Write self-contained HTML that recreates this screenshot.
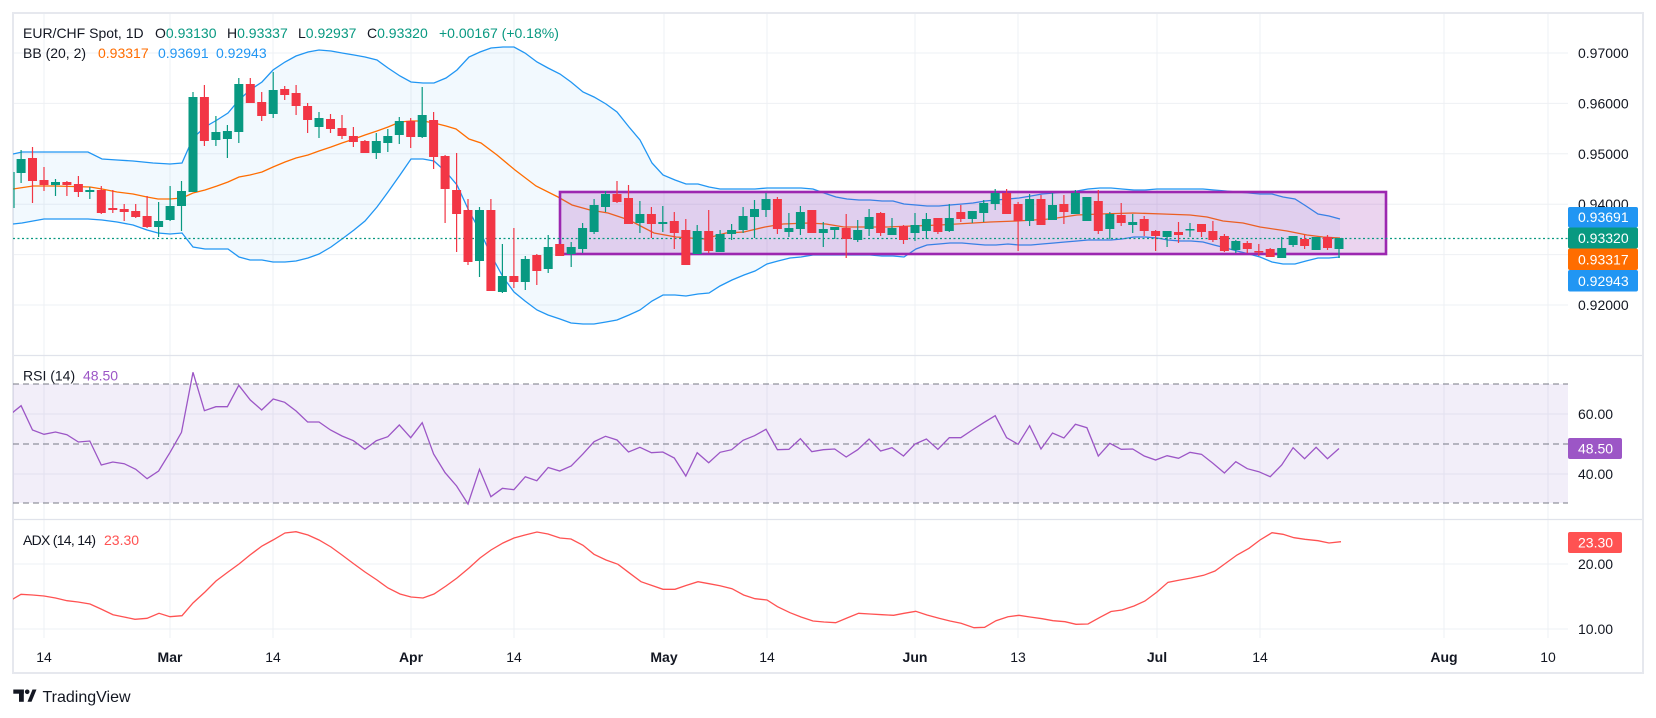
<!DOCTYPE html>
<html><head><meta charset="utf-8"><style>
html,body{margin:0;padding:0;background:#fff;}
svg{display:block;font-family:"Liberation Sans",Arial,sans-serif;}
</style></head><body>
<svg width="1656" height="718" viewBox="0 0 1656 718" xmlns="http://www.w3.org/2000/svg">
<defs>
<clipPath id="cm"><rect x="13" y="13" width="1555" height="342"/></clipPath>
<clipPath id="cr"><rect x="13" y="356" width="1555" height="163"/></clipPath>
<clipPath id="ca"><rect x="13" y="520" width="1555" height="118"/></clipPath>
</defs>
<rect x="0" y="0" width="1656" height="718" fill="#fff"/>
<!-- grid -->
<g stroke="#eef0f4" stroke-width="1">
<path d="M44 13V638M170 13V638M273 13V638M411 13V638M514 13V638M664 13V638M767 13V638M915 13V638M1018 13V638M1157 13V638M1260 13V638M1444 13V638M1548 13V638"/>
<path d="M13 53H1568M13 103.4H1568M13 153.8H1568M13 204.2H1568M13 254.6H1568M13 305H1568M13 414H1568M13 474H1568M13 564H1568M13 629H1568"/>
</g>
<!-- panel separators and border -->
<g stroke="#e0e3eb" fill="none">
<path d="M13 355.5H1643M13 519.5H1643" stroke-width="1.2"/>
<rect x="13" y="13" width="1630" height="660" stroke-width="2" stroke="#e6e8ee"/>
</g>

<!-- MAIN PANEL -->
<g clip-path="url(#cm)">
<polygon fill="rgba(33,150,243,0.06)" points="13,154 22,152 44,152 67,152 88,152 102,159 117,160 133,161 153,163 170,164 182,163 193,138 205,127 217,120 228,113 239,100 250,90 262,82 273,70 285,62 296,56 308,52 319,50 331,51 342,53 354,55 365,57 377,60 388,68 400,76 411,82 423,83 434,83 446,78 457,70 469,57 480,52 491,48 503,47 514,47 525,53 537,62 548,68 560,74 571,82 583,92 594,97 606,104 617,112 629,127 640,140 652,163 663,175 675,180 686,184 698,184 709,187 720,189 732,189 744,189 755,189 767,188 778,188 790,188 801,188 813,189 824,193 836,197 847,199 859,200 870,200 882,201 893,201 904,204 916,205 927,206 939,206 950,205 962,204 973,203 985,201 996,200 1008,199 1019,198 1031,196 1042,194 1054,193 1065,192 1077,191 1088,189 1100,188 1111,188 1122,189 1134,190 1145,190 1157,189 1168,189 1180,189 1191,189 1203,189 1214,190 1226,191 1237,192 1249,193 1260,194 1272,194 1283,197 1295,199 1306,206 1318,214 1329,216 1340,219 1340,257 1329,258 1318,258 1306,261 1295,264 1283,264 1272,262 1260,257 1249,254 1237,251 1226,248 1214,245 1203,242 1191,241 1180,241 1168,240 1157,238 1145,237 1134,237 1122,239 1111,240 1100,240 1088,240 1077,241 1065,242 1054,243 1042,244 1031,245 1019,245 1008,244 996,245 985,245 973,244 962,243 950,243 939,244 927,245 916,249 904,257 893,256 882,256 870,255 859,255 847,255 836,255 824,255 813,255 801,257 790,258 778,261 767,264 755,271 744,275 732,280 720,286 709,293 698,294 686,296 675,295 663,295 652,301 640,310 629,315 617,320 606,322 594,324 583,324 571,323 560,319 548,315 537,310 525,301 514,292 503,277 491,255 480,231 469,211 457,185 446,172 434,161 423,159 411,159 400,175 388,192 377,207 365,221 354,230 342,239 331,247 319,254 308,258 296,261 285,262 273,262 262,260 250,260 239,257 228,249 217,249 205,249 193,247 182,233 170,234 158,233 147,230 133,225 117,222 102,220 88,219 67,219 44,219 22,223 13,224"/>
<polyline fill="none" stroke="#2196F3" stroke-width="1.3" points="13,154 22,152 44,152 67,152 88,152 102,159 117,160 133,161 153,163 170,164 182,163 193,138 205,127 217,120 228,113 239,100 250,90 262,82 273,70 285,62 296,56 308,52 319,50 331,51 342,53 354,55 365,57 377,60 388,68 400,76 411,82 423,83 434,83 446,78 457,70 469,57 480,52 491,48 503,47 514,47 525,53 537,62 548,68 560,74 571,82 583,92 594,97 606,104 617,112 629,127 640,140 652,163 663,175 675,180 686,184 698,184 709,187 720,189 732,189 744,189 755,189 767,188 778,188 790,188 801,188 813,189 824,193 836,197 847,199 859,200 870,200 882,201 893,201 904,204 916,205 927,206 939,206 950,205 962,204 973,203 985,201 996,200 1008,199 1019,198 1031,196 1042,194 1054,193 1065,192 1077,191 1088,189 1100,188 1111,188 1122,189 1134,190 1145,190 1157,189 1168,189 1180,189 1191,189 1203,189 1214,190 1226,191 1237,192 1249,193 1260,194 1272,194 1283,197 1295,199 1306,206 1318,214 1329,216 1340,219"/>
<polyline fill="none" stroke="#2196F3" stroke-width="1.3" points="13,224 22,223 44,219 67,219 88,219 102,220 117,222 133,225 147,230 158,233 170,234 182,233 193,247 205,249 217,249 228,249 239,257 250,260 262,260 273,262 285,262 296,261 308,258 319,254 331,247 342,239 354,230 365,221 377,207 388,192 400,175 411,159 423,159 434,161 446,172 457,185 469,211 480,231 491,255 503,277 514,292 525,301 537,310 548,315 560,319 571,323 583,324 594,324 606,322 617,320 629,315 640,310 652,301 663,295 675,295 686,296 698,294 709,293 720,286 732,280 744,275 755,271 767,264 778,261 790,258 801,257 813,255 824,255 836,255 847,255 859,255 870,255 882,256 893,256 904,257 916,249 927,245 939,244 950,243 962,243 973,244 985,245 996,245 1008,244 1019,245 1031,245 1042,244 1054,243 1065,242 1077,241 1088,240 1100,240 1111,240 1122,239 1134,237 1145,237 1157,238 1168,240 1180,241 1191,241 1203,242 1214,245 1226,248 1237,251 1249,254 1260,257 1272,262 1283,264 1295,264 1306,261 1318,258 1329,258 1340,257"/>
<polyline fill="none" stroke="#FF6D00" stroke-width="1.3" points="13,189 33,186 55,186 90,187 102,189 117,192 133,194 147,197 158,199 170,199 182,198 193,193 205,190 217,186 228,182 239,177 250,175 262,172 273,167 285,162 296,158 308,155 319,151 331,147 342,143 354,139 365,135 377,131 388,127 400,122 411,121 423,121 434,123 446,126 456,129 469,139 481,143 497,155 515,170 536,186 558,197 572,205 590,210 608,213 629,220 654,233 676,237 704,239 726,233 744,232 765,227 783,224 808,223 826,224 844,227 886,227 940,225 990,222 1017,221 1050,219 1077,215 1100,214 1133,213 1163,214 1190,215 1207,217 1223,221 1243,223 1260,227 1287,231 1307,235 1323,237 1340,238"/>
<!-- rectangle drawing -->
<rect x="560" y="192" width="826" height="62" fill="rgba(156,39,176,0.2)" stroke="#9C27B0" stroke-width="2.6"/>
<!-- last price dotted line -->
<path d="M13 238.5H1568" stroke="#089981" stroke-width="1.2" stroke-dasharray="2,2.5"/>
<!-- green wicks -->
<path fill="none" stroke="#089981" stroke-width="1.2" d="M14 172V208M21.1 150V183M55.5 179V196M89.8 187V199M158.6 202V237M170.1 186V221M181.5 181V231M193 92V192M215.9 116V146M227.4 125V158M238.8 78V143M273.2 72V118M319 112V138M376.3 133V159M387.8 129V152M399.3 117V144M422.2 87V138M479.5 207V277M502.4 244V293M525.3 256V290M548.2 235V273M571.2 242V267M582.6 223V253M594.1 199V234M605.5 191V212M639.9 201V233M662.8 206V232M697.2 225V254M720.1 230V252M731.6 224V240M743.1 207V233M754.5 200V238M766 193V217M788.9 213V237M800.4 206V235M823.3 222V247M834.7 227V239M857.7 220V242M869.1 209V236M892 218V235M915 213V241M926.4 213V239M949.3 204V232M972.3 211V223M983.7 200V222M995.2 189V210M1029.6 194V226M1052.5 193V220M1075.4 190V214M1086.9 197V221M1109.8 212V239M1132.7 214V233M1167.1 231V247M1190 223V237M1235.8 240V253M1281.7 237V258M1293.1 236V247M1316.1 237V250M1339 238V258"/>
<!-- red wicks -->
<path fill="none" stroke="#F23645" stroke-width="1.2" d="M32.5 147V203M44 167V191M66.9 181V196M78.4 176V197M101.3 186V214M112.8 190V213M124.2 204V221M135.7 204V218M147.1 196V228M204.4 85V146M250.3 78V103M261.7 92V121M284.7 86V100M296.1 85V115M307.6 103V133M330.5 114V133M342 115V139M353.4 127V147M364.9 140V153M410.7 118V148M433.6 112V169M445.1 155V223M456.6 153V252M468 199V265M490.9 199V291M513.9 228V288M536.8 254V285M559.7 244V256M617 181V203M628.5 185V224M651.4 207V238M674.3 212V249M685.8 219V265M708.7 210V253M777.4 197V234M811.8 210V233M846.2 214V258M880.6 212V236M903.5 225V244M937.9 218V234M960.8 205V222M1006.6 189V214M1018.1 202V251M1041 195V225M1063.9 195V224M1098.3 190V234M1121.2 203V226M1144.2 216V236M1155.6 230V251M1178.5 222V243M1201.5 224V237M1212.9 221V242M1224.4 234V252M1247.3 241V253M1258.8 244V256M1270.2 248V257M1304.6 235V249M1327.5 235V250"/>
<!-- green bodies -->
<g fill="#089981">
<rect x="16.6" y="159" width="9" height="14"/><rect x="51" y="182" width="9" height="3"/><rect x="85.3" y="190" width="9" height="2"/><rect x="154.1" y="221" width="9" height="6"/><rect x="165.6" y="206" width="9" height="14"/><rect x="177" y="191" width="9" height="15"/><rect x="188.5" y="97" width="9" height="95"/><rect x="211.4" y="132" width="9" height="8"/><rect x="222.9" y="131" width="9" height="8"/><rect x="234.3" y="84" width="9" height="48"/><rect x="268.7" y="90" width="9" height="24"/><rect x="314.5" y="118" width="9" height="9"/><rect x="371.8" y="141" width="9" height="12"/><rect x="383.3" y="136" width="9" height="7"/><rect x="394.8" y="121" width="9" height="14"/><rect x="417.7" y="115" width="9" height="22"/><rect x="475" y="210" width="9" height="51"/><rect x="497.9" y="276" width="9" height="16"/><rect x="520.8" y="259" width="9" height="23"/><rect x="543.7" y="247" width="9" height="22"/><rect x="566.7" y="247" width="9" height="7"/><rect x="578.1" y="228" width="9" height="21"/><rect x="589.6" y="205" width="9" height="27"/><rect x="601" y="194" width="9" height="13"/><rect x="635.4" y="214" width="9" height="9"/><rect x="658.3" y="222" width="9" height="2"/><rect x="692.7" y="231" width="9" height="23"/><rect x="715.6" y="234" width="9" height="18"/><rect x="727.1" y="230" width="9" height="4"/><rect x="738.6" y="216" width="9" height="14"/><rect x="750" y="209" width="9" height="8"/><rect x="761.5" y="199" width="9" height="11"/><rect x="784.4" y="228" width="9" height="4"/><rect x="795.9" y="212" width="9" height="17"/><rect x="818.8" y="229" width="9" height="4"/><rect x="830.2" y="227" width="9" height="3"/><rect x="853.2" y="230" width="9" height="10"/><rect x="864.6" y="217" width="9" height="12"/><rect x="887.5" y="228" width="9" height="7"/><rect x="910.5" y="225" width="9" height="8"/><rect x="921.9" y="219" width="9" height="12"/><rect x="944.8" y="218" width="9" height="13"/><rect x="967.8" y="211" width="9" height="8"/><rect x="979.2" y="203" width="9" height="10"/><rect x="990.7" y="193" width="9" height="11"/><rect x="1025.1" y="199" width="9" height="22"/><rect x="1048" y="205" width="9" height="15"/><rect x="1070.9" y="193" width="9" height="21"/><rect x="1082.4" y="197" width="9" height="24"/><rect x="1105.3" y="214" width="9" height="15"/><rect x="1128.2" y="222" width="9" height="3"/><rect x="1162.6" y="231" width="9" height="6"/><rect x="1185.5" y="229" width="9" height="1.5"/><rect x="1231.3" y="241" width="9" height="9"/><rect x="1277.2" y="248" width="9" height="10"/><rect x="1288.6" y="236" width="9" height="9"/><rect x="1311.6" y="237" width="9" height="13"/><rect x="1334.5" y="238" width="9" height="11"/>
</g>
<!-- red bodies -->
<g fill="#F23645">
<rect x="28" y="158" width="9" height="23"/><rect x="39.5" y="180" width="9" height="5"/><rect x="62.4" y="182" width="9" height="3"/><rect x="73.9" y="184" width="9" height="8"/><rect x="96.8" y="190" width="9" height="23"/><rect x="108.3" y="208" width="9" height="2"/><rect x="119.7" y="209" width="9" height="3"/><rect x="131.2" y="211" width="9" height="6"/><rect x="142.6" y="216" width="9" height="11"/><rect x="199.9" y="97" width="9" height="44"/><rect x="245.8" y="84" width="9" height="19"/><rect x="257.2" y="102" width="9" height="14"/><rect x="280.2" y="89" width="9" height="6"/><rect x="291.6" y="93" width="9" height="13"/><rect x="303.1" y="106" width="9" height="14"/><rect x="326" y="119" width="9" height="10"/><rect x="337.5" y="128" width="9" height="8"/><rect x="348.9" y="136" width="9" height="6"/><rect x="360.4" y="141" width="9" height="12"/><rect x="406.2" y="121" width="9" height="16"/><rect x="429.1" y="120" width="9" height="37"/><rect x="440.6" y="156" width="9" height="33"/><rect x="452.1" y="190" width="9" height="24"/><rect x="463.5" y="210" width="9" height="52"/><rect x="486.4" y="210" width="9" height="81"/><rect x="509.4" y="276" width="9" height="6"/><rect x="532.3" y="255" width="9" height="16"/><rect x="555.2" y="244" width="9" height="12"/><rect x="612.5" y="194" width="9" height="8"/><rect x="624" y="198" width="9" height="26"/><rect x="646.9" y="214" width="9" height="10"/><rect x="669.8" y="221" width="9" height="12"/><rect x="681.3" y="230" width="9" height="35"/><rect x="704.2" y="231" width="9" height="20"/><rect x="772.9" y="199" width="9" height="30"/><rect x="807.3" y="210" width="9" height="23"/><rect x="841.7" y="228" width="9" height="11"/><rect x="876.1" y="213" width="9" height="20"/><rect x="899" y="226" width="9" height="14"/><rect x="933.4" y="218" width="9" height="14"/><rect x="956.3" y="212" width="9" height="7"/><rect x="1002.1" y="193" width="9" height="21"/><rect x="1013.6" y="204" width="9" height="17"/><rect x="1036.5" y="199" width="9" height="26"/><rect x="1059.4" y="204" width="9" height="8"/><rect x="1093.8" y="201" width="9" height="30"/><rect x="1116.7" y="215" width="9" height="8"/><rect x="1139.7" y="219" width="9" height="12"/><rect x="1151.1" y="231" width="9" height="5"/><rect x="1174" y="232" width="9" height="3"/><rect x="1197" y="224" width="9" height="8"/><rect x="1208.4" y="231" width="9" height="9"/><rect x="1219.9" y="236" width="9" height="15"/><rect x="1242.8" y="243" width="9" height="6"/><rect x="1254.3" y="251" width="9" height="1.5"/><rect x="1265.7" y="249" width="9" height="8"/><rect x="1300.1" y="239" width="9" height="7"/><rect x="1323" y="237" width="9" height="11"/>
</g>
</g>

<!-- RSI PANEL -->
<g clip-path="url(#cr)">
<rect x="13" y="384" width="1555" height="119" fill="rgba(126,87,194,0.1)"/>
<path d="M13 384H1568M13 444H1568M13 503H1568" stroke="#787b86" stroke-width="1" stroke-dasharray="6,4" fill="none"/>
<polyline fill="none" stroke="#9C56C6" stroke-width="1.3" points="9.6,415 21.1,405.7 32.5,430 44,434.3 55.5,432 66.9,434.7 78.4,442 89.8,441 101.3,465 112.8,462 124.2,463.7 135.7,469.3 147.1,478.7 158.6,471 170.1,452.3 181.5,432.3 193,372.3 204.4,410.7 215.9,406.7 227.4,406.7 238.8,385.3 250.3,400 261.7,410 273.2,399 284.7,402.3 296.1,411 307.6,422 319,422 330.5,430 342,436 353.4,440.7 364.9,449.3 376.3,440.7 387.8,436.7 399.3,425 410.7,437.7 422.2,422.7 433.6,454 445.1,472.7 456.6,486 468,504 479.5,469.3 490.9,496.7 502.4,488.3 513.9,489.7 525.3,476.7 536.8,480.7 548.2,467.5 559.7,471 571.2,466 582.6,454.3 594.1,441.7 605.5,436.3 617,440 628.5,452 639.9,447.3 651.4,452.7 662.8,452 674.3,458 685.8,476 697.2,452.7 708.7,462.7 720.1,452.3 731.6,449.7 743.1,440.3 754.5,435.7 766,429.3 777.4,449.7 788.9,449.3 800.4,438.7 811.8,451.7 823.3,449.7 834.7,449 846.2,457 857.7,449.7 869.1,439 880.6,451 892,447.7 903.5,456 915,444 926.4,439 937.9,449.3 949.3,437.7 960.8,437.7 972.3,430 983.7,422.7 995.2,415.7 1006.6,437.7 1018.1,444.3 1029.6,425.7 1041,449 1052.5,433 1063.9,438 1075.4,424.3 1086.9,427.7 1098.3,456 1109.8,443.3 1121.2,449.3 1132.7,449 1144.2,456 1155.6,460 1167.1,455.7 1178.5,458.3 1190,452.3 1201.5,454.3 1212.9,463.3 1224.4,473 1235.8,461.7 1247.3,468.7 1258.8,471.7 1270.2,476.7 1281.7,465 1293.1,447.7 1304.6,458.7 1316.1,447.3 1327.5,458.7 1339,448.5"/>
</g>

<!-- ADX PANEL -->
<g clip-path="url(#ca)">
<polyline fill="none" stroke="#FF5252" stroke-width="1.3" points="9.6,601 21,594.3 32.5,595 44,596 55.5,598 67,600.7 78,602 90,604 101,609 113,614.7 124,617 135,619.3 147,618.3 159,613.3 170,616.7 182,615.7 193,603 205,592 216,581 228,572 239,564 250,555 262,546 273,540 285,533 296,531.7 308,535 319,540 331,547 342,555 354,564 365,572 377,580 388,588 400,594 411,597 423,598 434,594 446,586 457,578 469,568 480,558 491,550 503,543 514,538 525,535 537,532 548,534 560,538 571,539 583,545.3 594,554.3 606,560 618,564.3 629,572.7 641,581.7 652,585.5 663,589.3 675,589.3 686,585.5 698,581.7 709,583.7 720,585.7 732,588.7 743.6,595 755,598.7 767,600 777.5,606.7 790,612.7 801,617 813,621 824,622 835.7,622.7 847,618 858.6,613.3 870,614 882,614.7 893.6,615.3 904,613.3 915.7,611.3 927,615 939,618.3 950,621 961,623.3 974,627.7 984.6,627.3 996,620.7 1008,616.7 1019,615.3 1030,617 1042,618.7 1053,620.7 1065,621.7 1076,624.3 1088,624 1100,617.3 1111,611.5 1122,610 1134,606 1145,601 1157,592 1168,582.3 1180,580 1191,578 1203.6,575.3 1215,571 1226,563 1237,555 1249,548.3 1260,540 1272,532.7 1283,534.3 1294,537.7 1305,539.3 1318,540.7 1329,543 1341,541.7"/>
</g>

<!-- legends -->
<g font-size="14" fill="#131722">
<text x="23" y="38">EUR/CHF Spot, 1D</text>
<text x="155" y="38">O<tspan fill="#089981">0.93130</tspan></text>
<text x="227" y="38">H<tspan fill="#089981">0.93337</tspan></text>
<text x="298" y="38">L<tspan fill="#089981">0.92937</tspan></text>
<text x="367" y="38">C<tspan fill="#089981">0.93320</tspan></text>
<text x="439" y="38" fill="#089981">+0.00167 (+0.18%)</text>
<text x="23" y="58">BB (20, 2)</text>
<text x="98" y="58" fill="#FF6D00">0.93317</text>
<text x="158" y="58" fill="#2196F3">0.93691</text>
<text x="216" y="58" fill="#2196F3">0.92943</text>
<text x="23" y="380.5">RSI (14)</text>
<text x="83" y="380.5" fill="#9C56C6">48.50</text>
<text x="23" y="545" textLength="73" lengthAdjust="spacing">ADX (14, 14)</text>
<text x="104" y="545" fill="#FF5252">23.30</text>
</g>

<!-- price axis -->
<g font-size="14" fill="#131722">
<text x="1578" y="58">0.97000</text>
<text x="1578" y="108.4">0.96000</text>
<text x="1578" y="158.8">0.95000</text>
<text x="1578" y="209.2">0.94000</text>
<text x="1578" y="310">0.92000</text>
<text x="1578" y="419">60.00</text>
<text x="1578" y="479">40.00</text>
<text x="1578" y="569">20.00</text>
<text x="1578" y="634">10.00</text>
</g>
<g font-size="14" fill="#fff">
<rect x="1568" y="207" width="70" height="20.5" rx="2" fill="#2196F3"/>
<text x="1578" y="222">0.93691</text>
<rect x="1568" y="227.5" width="70" height="21" rx="2" fill="#089981"/>
<text x="1578" y="243">0.93320</text>
<rect x="1568" y="248.5" width="70" height="21.5" rx="2" fill="#FF6D00"/>
<text x="1578" y="264.5">0.93317</text>
<rect x="1568" y="270" width="70" height="21.5" rx="2" fill="#2196F3"/>
<text x="1578" y="286">0.92943</text>
<rect x="1568" y="438" width="54" height="21" rx="2" fill="#9C56C6"/>
<text x="1578" y="453.5">48.50</text>
<rect x="1568" y="532" width="54" height="21" rx="2" fill="#FF5252"/>
<text x="1578" y="547.5">23.30</text>
</g>

<!-- time axis -->
<g font-size="14" fill="#131722" text-anchor="middle">
<text x="44" y="662">14</text>
<text x="170" y="662" font-weight="bold">Mar</text>
<text x="273" y="662">14</text>
<text x="411" y="662" font-weight="bold">Apr</text>
<text x="514" y="662">14</text>
<text x="664" y="662" font-weight="bold">May</text>
<text x="767" y="662">14</text>
<text x="915" y="662" font-weight="bold">Jun</text>
<text x="1018" y="662">13</text>
<text x="1157" y="662" font-weight="bold">Jul</text>
<text x="1260" y="662">14</text>
<text x="1444" y="662" font-weight="bold">Aug</text>
<text x="1548" y="662">10</text>
</g>

<!-- TradingView logo -->
<g fill="#131722">
<rect x="13.3" y="689.5" width="10.5" height="4.2"/>
<rect x="19" y="689.5" width="4.8" height="12.3"/>
<circle cx="27.2" cy="691.8" r="2.3"/>
<polygon points="27.5,701.8 32.5,689.5 36.5,689.5 31.5,701.8"/>
<text x="42.5" y="701.8" font-size="16">TradingView</text>
</g>
</svg>
</body></html>
